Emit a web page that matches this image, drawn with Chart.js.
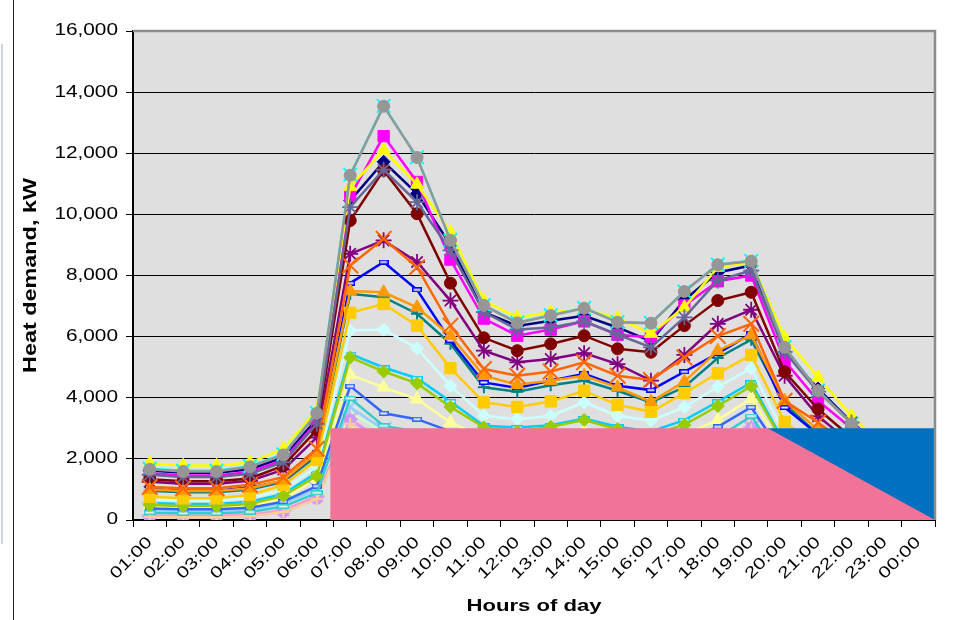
<!DOCTYPE html>
<html>
<head>
<meta charset="utf-8">
<script src="https://cdn.jsdelivr.net/npm/chart.js@4.4.1/dist/chart.umd.min.js"></script>
<style>
html,body{margin:0;padding:0;background:#ffffff;}
#wrap{position:relative;width:974px;height:620px;}
canvas{display:block;}
</style>
</head>
<body>
<div id="wrap"><canvas id="c" width="974" height="620"></canvas></div>
<script>
// ---------------- DATA ----------------
const hours = ['01:00','02:00','03:00','04:00','05:00','06:00','07:00','08:00','09:00','10:00','11:00','12:00',
               '13:00','14:00','15:00','16:00','17:00','18:00','19:00','20:00','21:00','22:00','23:00','00:00'];
const yTickStep = 2000;
const yMax = 16000;

const s01Navy      = [1620,1550,1550,1660,2050,3300,10450,11720,10680,9000,6800,6350,6520,6680,6300,5850,7200,8100,8330,5500,4300,3200,2300,1700];
const s02Magenta   = [1530,1460,1460,1570,1960,3200,10600,12560,11060,8520,6590,6030,6230,6500,6060,5980,7020,7810,8000,5210,3900,3000,2200,1600];
const s03Yellow    = [1860,1780,1780,1880,2330,3600,10900,12100,10980,9420,7180,6630,6800,6900,6600,6100,6960,8260,8450,5970,4670,3410,2350,1800];
const s04Cyan      = [1680,1610,1610,1760,2150,3500,11300,13550,11870,9160,7030,6460,6700,6940,6480,6450,7480,8360,8480,5660,4240,3160,2310,1760];
const s05Purple    = [1250,1190,1190,1280,1650,2700,8710,9150,8440,7180,5540,5160,5270,5460,5100,4560,5400,6420,6880,4720,3400,2500,1800,1350];
const s06Maroon    = [1330,1270,1270,1360,1780,2950,9800,11440,10020,7750,5960,5540,5760,6030,5600,5490,6360,7180,7450,4850,3630,2700,1950,1450];
const s07Teal      = [960,910,910,1000,1250,2100,7400,7290,6750,5770,4340,4200,4410,4560,4230,3850,4350,5300,5900,3800,2800,2100,1500,1050];
const s08Blue      = [1010,960,960,1060,1280,2200,7750,8440,7530,5870,4500,4320,4560,4780,4390,4250,4850,5450,6100,3680,2800,2100,1500,1100];
const s09SkyBlue   = [560,520,520,600,850,1550,5430,4990,4640,3880,3080,3030,3100,3320,3050,2900,3270,3870,4490,2500,1900,1400,1000,650];
const s10LightTurq = [680,630,630,720,980,1750,6200,6230,5620,4390,3410,3300,3410,3850,3410,3250,3690,4360,4960,2800,2100,1600,1100,750];
const s11LightGrn  = [300,280,280,320,500,950,3500,2900,2700,2300,2000,1950,2000,2150,1950,1850,2100,2500,2950,1700,1300,950,650,350];
const s12LightYel  = [430,400,400,460,700,1330,4750,4340,3950,3190,2700,2600,2700,2900,2600,2500,2800,3270,3980,2300,1700,1250,900,500];
const s13PaleBlue  = [330,300,300,350,540,1000,3700,2950,2750,2350,2050,2000,2050,2200,2000,1900,2150,2550,3000,1750,1300,950,650,380];
const s14Rose      = [150,140,140,170,320,780,3300,2600,2450,2050,1800,1750,1800,1950,1750,1650,1900,2300,3050,1500,1100,750,450,180];
const s15Lavender  = [110,100,100,130,270,710,3270,2550,2400,2000,1750,1700,1750,1900,1700,1600,1850,2250,3000,1450,1050,700,400,120];
const s16Tan       = [100,90,90,120,260,690,3150,2500,2350,1950,1700,1650,1700,1850,1650,1550,1800,2200,2950,1400,1000,650,380,110];
const s17RoyalBlue = [380,350,350,400,600,1110,4380,3490,3300,2900,2500,2450,2500,2700,2450,2350,2600,3050,3690,2050,1500,1100,750,420];
const s18Turquoise = [240,220,220,260,440,890,3980,3080,2900,2500,2150,2100,2150,2300,2100,2000,2250,2700,3400,1800,1300,900,600,280];
const s19Lime      = [490,460,460,520,790,1440,5320,4860,4470,3700,3030,2900,3050,3270,2970,2800,3110,3730,4380,2450,1800,1350,950,550];
const s20Gold      = [760,710,710,820,1150,1960,6780,7070,6360,4970,3850,3700,3880,4230,3770,3540,4150,4800,5400,3210,2400,1800,1250,850];
const s21LtOrange  = [1000,950,950,1040,1300,2200,7490,7450,6960,6030,4720,4430,4560,4720,4340,3870,4530,5540,6050,3900,2950,2200,1550,1100];
const s22Orange    = [1080,1040,1040,1150,1400,2330,8330,9200,8270,6360,4940,4720,4860,5160,4720,4580,5320,6020,6420,3900,3190,2400,1700,1200];
const s23BlueGray  = [1480,1410,1410,1510,1890,3150,10240,11460,10400,8820,6800,6230,6300,6500,6070,5650,6630,7840,8160,5500,4200,3190,2250,1650];
const s24Gray      = [1660,1590,1590,1740,2130,3490,11280,13540,11860,9150,7020,6450,6690,6930,6470,6440,7475,8350,8470,5650,4230,3150,2300,1750];

// capacity areas (x in category-index units, boundaries at .5)
const pinkX = [5.4, 5.4, 18.5, 23.5];
const pinkY = [0, 3000, 3000, 0];
const blueX = [18.5, 23.5];
const blueY = [3000, 3000];

// ---------------- STYLE ----------------
const seriesData = [s01Navy,s02Magenta,s03Yellow,s04Cyan,s05Purple,s06Maroon,s07Teal,s08Blue,s09SkyBlue,s10LightTurq,
  s11LightGrn,s12LightYel,s13PaleBlue,s14Rose,s15Lavender,s16Tan,s17RoyalBlue,s18Turquoise,s19Lime,s20Gold,
  s21LtOrange,s22Orange,s23BlueGray,s24Gray];
const seriesColors = ['#000080','#FF00FF','#FFFF00','#00FFFF','#800080','#800000','#008080','#0000FF','#00CCFF','#CCFFFF',
  '#CCFFCC','#FFFF99','#99CCFF','#FF99CC','#CC99FF','#FFCC99','#3366FF','#33CCCC','#99CC00','#FFCC00',
  '#FF9900','#FF6600','#666699','#969696'];
const markerCycle = ['diamond','square','triangle','x','star','circle','plus','dot','dash'];

function dashImg(color, w, h) {
  const c = document.createElement('canvas');
  c.width = w; c.height = h;
  const g = c.getContext('2d');
  g.fillStyle = color; g.fillRect(0, 0, w, h);
  g.fillStyle = '#EDEDED'; g.fillRect(1.5, 1.5, w - 3, h - 3);
  return c;
}

function markerStyle(kind, color, isCyan) {
  switch (kind) {
    case 'diamond':  return {pointStyle:'rectRot', pointRadius:6.5, pointBorderWidth:1};
    case 'square':   return {pointStyle:'rect', pointRadius:8, pointBorderWidth:1};
    case 'triangle': return {pointStyle:'triangle', pointRadius:7.5, pointBorderWidth:1};
    case 'x':        return {pointStyle:'crossRot', pointRadius:isCyan?9.5:11, pointBorderWidth:2};
    case 'star':     return {pointStyle:'star', pointRadius:8, pointBorderWidth:1.8};
    case 'circle':   return {pointStyle:'circle', pointRadius:6, pointBorderWidth:1};
    case 'plus':     return {pointStyle:'cross', pointRadius:6, pointBorderWidth:2};
    case 'dot':      return {pointStyle:dashImg(color, 10, 5), pointRadius:5, pointBorderWidth:1};
    case 'dash':     return {pointStyle:dashImg(color, 12, 5), pointRadius:6, pointBorderWidth:1};
  }
}

const lineDatasets = seriesData.map((vals, i) => Object.assign({
  type: 'line',
  label: 'Series ' + (i + 1),
  data: vals,
  xAxisID: 'x', yAxisID: 'y',
  borderColor: seriesColors[i],
  backgroundColor: seriesColors[i],
  pointBackgroundColor: seriesColors[i],
  pointBorderColor: seriesColors[i],
  borderWidth: 2.5,
  tension: 0,
  fill: false,
  order: 30 - i
}, markerStyle(markerCycle[i % 9], seriesColors[i], i === 3)));

const areaDatasets = [
  {type:'line', label:'Capacity A', data: pinkX.map((x, k) => ({x, y: pinkY[k]})),
   xAxisID:'xa', yAxisID:'y', backgroundColor:'#F27398', borderWidth:0, pointRadius:0,
   fill:'origin', tension:0, order:-2},
  {type:'line', label:'Capacity B', data: blueX.map((x, k) => ({x, y: blueY[k]})),
   xAxisID:'xa', yAxisID:'y', backgroundColor:'#0070C0', borderWidth:0, pointRadius:0,
   fill:'origin', tension:0, order:-1}
];

// ---------------- TEXT (wide rendering like the original) ----------------
const canvas = document.getElementById('c');
const ctx = canvas.getContext('2d');
const TEXT_SX = 1.3;
const _fill = ctx.fillText.bind(ctx);
const _measure = ctx.measureText.bind(ctx);
ctx.fillText = function (t, x, y) {
  ctx.save(); ctx.translate(x, y); ctx.scale(TEXT_SX, 1); _fill(t, 0, 0); ctx.restore();
};
ctx.measureText = function (t) {
  const m = _measure(t);
  return {width: m.width * TEXT_SX, actualBoundingBoxAscent: m.actualBoundingBoxAscent,
          actualBoundingBoxDescent: m.actualBoundingBoxDescent};
};

const FONT = "'Liberation Sans', Arial, sans-serif";

const framePlugin = {
  id: 'frame',
  beforeDraw(chart) {
    const {ctx, chartArea: a} = chart;
    ctx.save();
    ctx.fillStyle = '#DFDFDF';
    ctx.fillRect(a.left, a.top, a.right - a.left, a.bottom - a.top);
    ctx.strokeStyle = '#222'; ctx.lineWidth = 1;
    ctx.beginPath(); ctx.moveTo(13.5, 0); ctx.lineTo(13.5, 620); ctx.stroke();
    ctx.strokeStyle = '#C9D5E6'; ctx.lineWidth = 2;
    ctx.beginPath(); ctx.moveTo(2, 44); ctx.lineTo(2, 544); ctx.stroke();
    ctx.restore();
  },
  afterDraw(chart) {
    const {ctx, chartArea: a} = chart;
    ctx.save();
    ctx.strokeStyle = '#8C8C8C'; ctx.lineWidth = 2.5;
    ctx.beginPath();
    ctx.moveTo(a.left, a.top); ctx.lineTo(a.right, a.top); ctx.lineTo(a.right, a.bottom);
    ctx.stroke();
    ctx.restore();
  }
};

new Chart(ctx, {
  type: 'line',
  data: { labels: hours, datasets: areaDatasets.concat(lineDatasets) },
  options: {
    responsive: false,
    animation: false,
    devicePixelRatio: 1,
    layout: { padding: { top: 31, right: 39, left: 0, bottom: 0 } },
    plugins: { legend: { display: false }, tooltip: { enabled: false } },
    scales: {
      x: {
        type: 'category', position: 'bottom', offset: true, z: 1,
        grid: { display: true, offset: true, drawOnChartArea: false, drawTicks: true, tickLength: 7, color: '#000', lineWidth: 1 },
        border: { display: true, color: '#000', width: 2 },
        ticks: { autoSkip: false, minRotation: 45, maxRotation: 45, padding: 6, color: '#000',
                 font: { family: FONT, size: 16 } },
        title: { display: true, text: 'Hours of day', color: '#000',
                 font: { family: FONT, size: 17, weight: 'bold' }, padding: { top: 0, bottom: 3 } },
        afterFit(scale) { scale.height = 100; }
      },
      xa: { type: 'linear', position: 'bottom', display: false, min: -0.5, max: 23.5 },
      y: {
        type: 'linear', position: 'left', min: 0, max: yMax,
        grid: { color: '#000', lineWidth: 1, drawTicks: true, tickLength: 7 },
        border: { display: true, color: '#000', width: 2 },
        ticks: { stepSize: yTickStep, padding: 8, color: '#000', font: { family: FONT, size: 16 } },
        title: { display: true, text: 'Heat demand, kW', color: '#000',
                 font: { family: FONT, size: 18, weight: 'bold' }, padding: { top: 20, bottom: 0 } },
        afterFit(scale) { scale.width = 133; }
      }
    }
  },
  plugins: [framePlugin]
});
</script>
</body>
</html>
